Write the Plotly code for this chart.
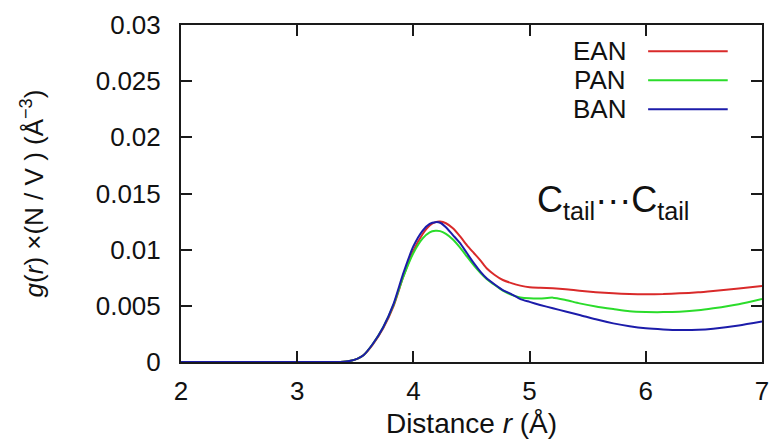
import plotly.graph_objects as go

# ---- data ----
r = [2.0, 3.30, 3.37, 3.42, 3.47, 3.52, 3.57, 3.65, 3.74, 3.83, 3.91, 4.00, 4.08, 4.14, 4.19,
     4.23, 4.28, 4.34, 4.40, 4.46, 4.52, 4.58, 4.63, 4.70, 4.77, 4.85, 4.92, 5.00, 5.09,
     5.20, 5.31, 5.43, 5.57, 5.72, 5.86, 6.00, 6.15, 6.29, 6.45, 6.58, 6.80, 7.00]

ean = [0, 0, 0, 0.00004, 0.00013, 0.0003, 0.0006, 0.00155, 0.0030, 0.0050, 0.0075, 0.0099, 0.0114,
       0.01215, 0.01245, 0.0125, 0.01235, 0.0119, 0.0112, 0.0104, 0.0097, 0.0090, 0.00835,
       0.00775, 0.0073, 0.0070, 0.0068, 0.00665, 0.0066, 0.00656, 0.00648, 0.00635, 0.00622,
       0.00611, 0.00605, 0.00603, 0.00605, 0.00611, 0.0062, 0.00632, 0.00655, 0.00677]

pan = [0, 0, 0, 0.00004, 0.00013, 0.0003, 0.0006, 0.0016, 0.0031, 0.0051, 0.0075, 0.0097, 0.0110,
       0.01155, 0.01168, 0.01165, 0.0114, 0.0109, 0.0102, 0.0094, 0.0086, 0.0079, 0.0074,
       0.00685, 0.00635, 0.00595, 0.00575, 0.00567, 0.00565, 0.00573, 0.00552, 0.00522,
       0.00495, 0.00472, 0.00452, 0.00445, 0.00444, 0.00448, 0.0046, 0.00478, 0.00515, 0.00561]

ban = [0, 0, 0, 0.00004, 0.00013, 0.0003, 0.0006, 0.0016, 0.0031, 0.0052, 0.0078, 0.0103, 0.0117,
       0.0123, 0.01245, 0.0124, 0.0120, 0.0113, 0.0106, 0.0097, 0.0088, 0.0080, 0.00745,
       0.0069, 0.0064, 0.0060, 0.0056, 0.00535, 0.00508, 0.00478, 0.0045, 0.00419, 0.0038,
       0.00344, 0.00318, 0.0030, 0.0029, 0.00285, 0.00287, 0.00297, 0.00325, 0.0036]

series_names = ["EAN", "PAN", "BAN"]
series_colors = ["#d92a2a", "#2bdc2b", "#1c1caa"]

x_ticks = [2, 3, 4, 5, 6, 7]
y_ticks = [0, 0.005, 0.01, 0.015, 0.02, 0.025, 0.03]
y_ticklabels = ["0", "0.005", "0.01", "0.015", "0.02", "0.025", "0.03"]

FONT = "Liberation Sans, Arial, Helvetica, sans-serif"
INK = "#1a1a1a"

fig = go.Figure()
for name, ys, col in zip(series_names, [ean, pan, ban], series_colors):
    fig.add_trace(go.Scatter(x=r, y=ys, mode="lines", name=name,
                             line=dict(color=col, width=2, shape="spline", smoothing=0.6),
                             showlegend=False))

# gnuplot-style key: text then line sample
key_y = [0.922, 0.836, 0.750]
for name, col, ky in zip(series_names, series_colors, key_y):
    fig.add_annotation(x=0.769, y=ky, xref="paper", yref="paper", text=name,
                       showarrow=False, xanchor="right", yanchor="middle",
                       font=dict(family=FONT, size=26, color="#111"))
    fig.add_shape(type="line", xref="paper", yref="paper", x0=0.804, x1=0.941,
                  y0=ky, y1=ky, line=dict(color=col, width=2))

fig.add_annotation(x=5.72, y=0.0142, text="C<sub>tail</sub>···C<sub>tail</sub>",
                   showarrow=False, xanchor="center", yanchor="middle",
                   font=dict(family=FONT, size=36, color="#111"))

fig.update_xaxes(range=[2, 7], tickvals=x_ticks, ticks="inside", ticklen=11, tickwidth=2,
                 tickcolor=INK, showline=True, linecolor=INK, linewidth=2, mirror="ticks",
                 showgrid=False, zeroline=False, automargin=False,
                 tickfont=dict(family=FONT, size=26, color="#111"),
                 ticklabelstandoff=5,
                 title=dict(text="Distance <i>r</i> (Å)", standoff=8,
                            font=dict(family=FONT, size=28, color="#111")))
fig.update_yaxes(range=[0, 0.03], tickvals=y_ticks, ticktext=y_ticklabels, ticks="inside",
                 ticklen=11, tickwidth=2, tickcolor=INK, showline=True, linecolor=INK,
                 linewidth=2, mirror="ticks", showgrid=False, zeroline=False, automargin=False,
                 tickfont=dict(family=FONT, size=26, color="#111"),
                 ticklabelstandoff=13,
                 title=dict(text="<i>g</i>(<i>r</i>) ×(N / V ) (Å<sup>−3</sup>)", standoff=45,
                            font=dict(family=FONT, size=26, color="#111")))

fig.update_layout(width=773, height=448, margin=dict(l=181, r=11, t=25, b=86),
                  paper_bgcolor="white", plot_bgcolor="white")

# remove the default 8px page margin so the figure fills the window exactly
fig.write_html("out.html", config={"displayModeBar": False},
               post_script="document.body.style.margin='0';")
